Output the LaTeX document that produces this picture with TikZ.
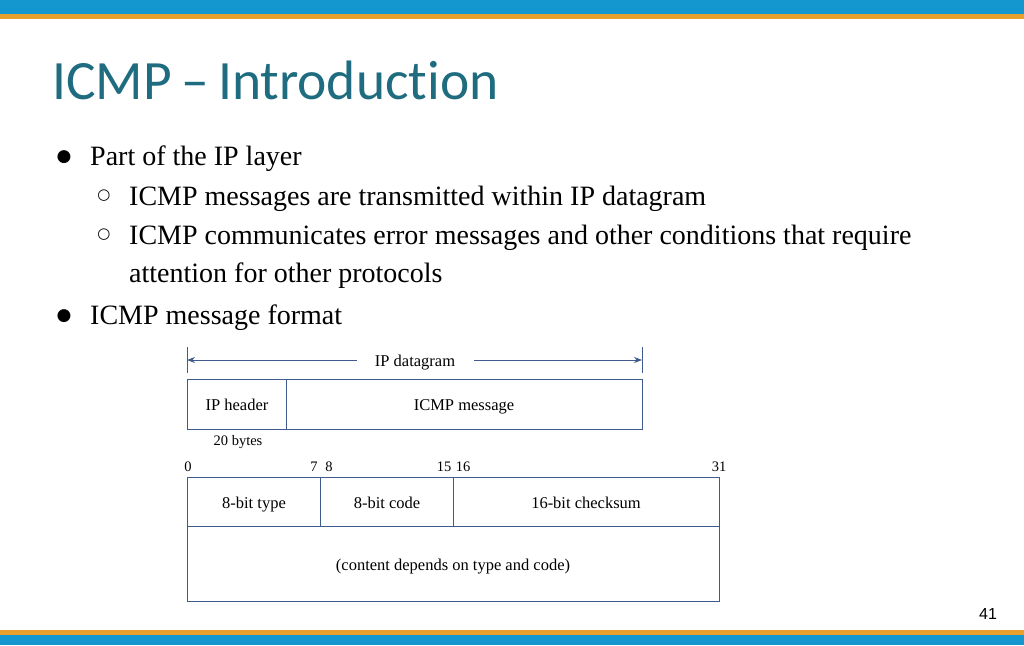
\documentclass[tikz,border=0pt]{standalone}
\usepackage{fontspec}
\setmainfont{Liberation Serif}
\newfontfamily\titlefont[Ligatures=NoCommon]{Carlito}
\newfontfamily\pagefont{Liberation Sans}
\newfontfamily\symfont{DejaVu Sans}
\usetikzlibrary{arrows.meta}
\definecolor{barblue}{HTML}{1497CF}
\definecolor{barorange}{HTML}{E8A02A}
\definecolor{titleteal}{HTML}{1F6C80}
\definecolor{boxline}{HTML}{3F5B8C}
\tikzset{
  field/.style={draw=boxline, line width=0.8pt},
  lbl/.style={inner sep=0pt, text height=1.6ex, text depth=.3ex, yshift=-3pt, font=\fontsize{16.5}{19}\selectfont},
  bit/.style={inner sep=0pt, text height=1.6ex, text depth=.3ex, yshift=-3pt, font=\fontsize{14.5}{17}\selectfont},
  bullet/.style={anchor=base west, inner sep=0pt, font=\fontsize{28}{32}\selectfont},
  mark1/.style={inner sep=0pt, font=\symfont\fontsize{17}{20}\selectfont},
  mark2/.style={inner sep=0pt, font=\symfont\fontsize{15}{18}\selectfont},
}
\begin{document}
\begin{tikzpicture}[x=1pt,y=-1pt]
  \useasboundingbox (0,0) rectangle (1024,645);
  % bars
  \fill[barblue] (0,0) rectangle (1024,14);
  \fill[barorange] (0,14) rectangle (1024,19);
  \fill[barorange] (0,630) rectangle (1024,635);
  \fill[barblue] (0,635) rectangle (1024,645);

  % title and bullets
  \node[anchor=base west, inner sep=0pt, text=titleteal,
        font=\titlefont\fontsize{55.5}{60}\selectfont] (title) at (52,99) {ICMP\,\textendash\,Introduction};
  \node[mark1] (m1) at (64,157) {●};
  \node[bullet] (b1) at (90,165) {Part of the IP layer};
  \node[mark2] (m11) at (104,196) {○};
  \node[bullet] (b11) at (129,205) {ICMP messages are transmitted within IP datagram};
  \node[mark2] (m12) at (104,235) {○};
  \node[bullet] (b12) at (129,244) {ICMP communicates error messages and other conditions that require};
  \node[bullet] (b13) at (129,282) {attention for other protocols};
  \node[mark1] (m2) at (64,316) {●};
  \node[bullet] (b2) at (90,324) {ICMP message format};

  % IP datagram
  \draw[field] (187,347) -- (187,373);
  \draw[field] (642,347) -- (642,373);
  \node[lbl] (dg) at (415,361) {IP datagram};
  \draw[field, -{Stealth[length=8pt,width=6pt]}] (357,360) -- (187,360);
  \draw[field, -{Stealth[length=8pt,width=6pt]}] (474,360) -- (642,360);
  \draw[field] (187,379) rectangle (642,429);
  \draw[field] (286,379) -- (286,429);
  \node[lbl] (iph) at (237,405) {IP header};
  \node[lbl] (icmp) at (464,405) {ICMP message};
  \node[bit] (bytes) at (238,440) {20 bytes};

  % ICMP format
  \node[bit] (n0) at (188,466) {0};
  \node[bit] (n7) at (314,466) {7};
  \node[bit] (n8) at (329,466) {8};
  \node[bit] (n15) at (444,466) {15};
  \node[bit] (n16) at (463,466) {16};
  \node[bit] (n31) at (719,466) {31};
  \draw[field] (187,477) rectangle (719,601);
  \draw[field] (187,526) -- (719,526);
  \draw[field] (320,477) -- (320,526);
  \draw[field] (453,477) -- (453,526);
  \node[lbl] (type) at (254,503) {8-bit type};
  \node[lbl] (code) at (387,503) {8-bit code};
  \node[lbl] (sum) at (586,503) {16-bit checksum};
  \node[lbl] (body) at (453,565) {(content depends on type and code)};

  \node[inner sep=0pt, font=\pagefont\fontsize{16}{18}\selectfont] (pg) at (988,614) {41};
\end{tikzpicture}
\end{document}
